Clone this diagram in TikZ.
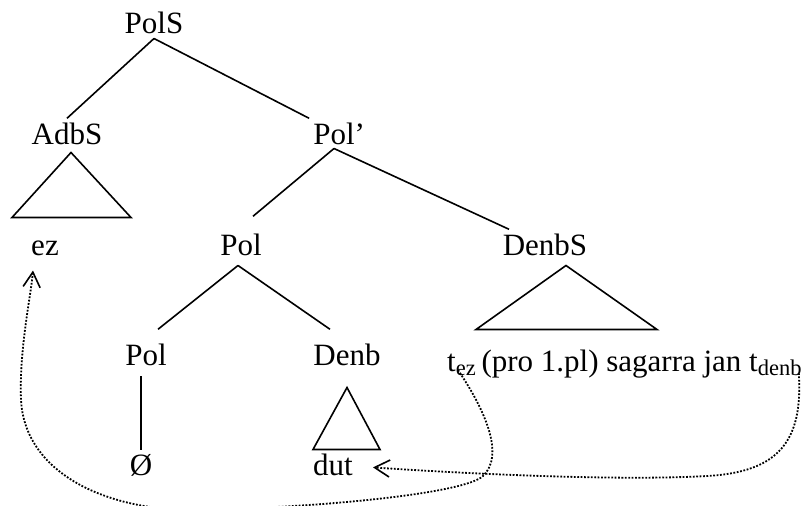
\documentclass[tikz,border=0pt]{standalone}
\usepackage{fontspec}
\setmainfont{Liberation Serif}
\usetikzlibrary{positioning,calc,arrows.meta}

\newcommand{\lowsub}[1]{\raisebox{-4pt}{\fontsize{22.5}{22.5}\selectfont #1}}

\tikzset{
  lbl/.style={font=\fontsize{31}{37}\selectfont, inner sep=4pt, anchor=base},
  branch/.style={line width=1.6pt},
  move/.style={line width=1.8pt, dash pattern=on 1.8pt off 1.6pt,
    -{Straight Barb[length=15pt,width=17pt,line width=1.6pt]}}
}

\begin{document}
\begin{tikzpicture}[x=1pt,y=-1pt]
\useasboundingbox (0,0) rectangle (806,506);

% tree labels
\foreach \nm/\x/\y/\lab in {PolS/154/34/PolS, AdbS/67/144/AdbS, Polb/334/144/{Pol\rlap{’}},
    ez/45/255/ez, Polm/241/255/Pol, DenbS/545/255/DenbS,
    Polh/146/365/Pol, Denb/347/365/Denb, zero/141/475/Ø, dut/333/475/dut}
  \node[lbl] (\nm) at (\x,\y) {\lab};
\node[lbl,anchor=base west] (trace) at (443,371)
  {t\lowsub{ez}\hspace{-2pt} (pro 1.pl) sagarra jan t\lowsub{denb}};

% branches
\foreach \a/\b in {PolS.south/AdbS.north, PolS.south/Polb.north west}
  \draw[branch] (\a) -- (\b);
\draw[branch] (Polb.south) -- ([shift={(12,-13)}]Polm.north);
\draw[branch] (Polb.south) -- ([shift={(-36,0)}]DenbS.north);
\draw[branch] ([shift={(-3,6)}]Polm.south) -- ([shift={(12,-10)}]Polh.north);
\draw[branch] ([shift={(-3,6)}]Polm.south) -- ([shift={(-17,-10)}]Denb.north);
\draw[branch,shorten >=6pt] (zero.north) -- (zero.north |- Polh.south);

% triangles
\draw[branch] ([shift={(4,4)}]AdbS.south) -- ++(-59,65) -- ++(119,0) -- cycle;
\draw[branch] ([shift={(21,6)}]DenbS.south) -- ++(-90,64) -- ++(181,0) -- cycle;
\draw[branch] ([shift={(0,18)}]Denb.south) -- ++(-34,62) -- ++(67,0) -- cycle;

% movements
\draw[move] ([shift={(15,-1)}]trace.base west) .. controls (485,410) and (505,455) .. (483,476)
  .. controls (465,493) and (330,507) .. (200,510)
  .. controls (110,512) and (25,475) .. (21,400)
  .. controls (19,350) and (31,295) .. ([shift={(-12,11)}]ez.south);
\draw[move] ([shift={(-7,2)}]trace.base east) .. controls (803,440) and (780,472) .. (707,476)
  .. controls (620,481) and (470,474) .. ([shift={(16,3)}]dut.east);

\end{tikzpicture}
\end{document}
